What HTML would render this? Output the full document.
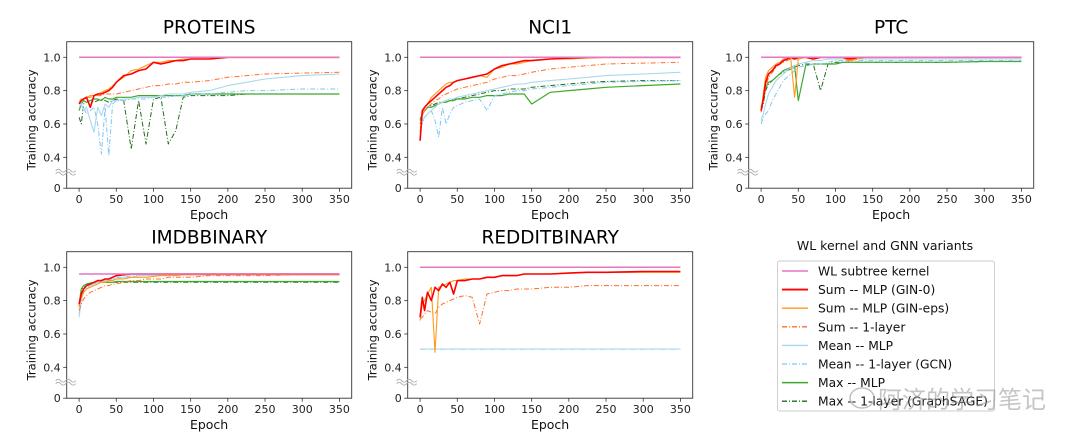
<!DOCTYPE html>
<html><head><meta charset="utf-8"><style>
html,body{margin:0;padding:0;background:#fff;}
svg{display:block;font-family:"DejaVu Sans","Liberation Sans",sans-serif;}
</style></head><body>
<svg id="chart" width="1080" height="442" viewBox="0 0 1080 442" xmlns="http://www.w3.org/2000/svg"></svg>
<script>
const epochs = [0,3,6,10,15,20,25,30,35,40,45,50,60,70,80,90,100,110,120,130,140,150,175,200,225,250,300,350];
const xTicks = [0,50,100,150,200,250,300,350];
const yTicks = [1.0,0.8,0.6,0.4];
const yTickLabels = ["1.0","0.8","0.6","0.4"];
const datasets = ["PROTEINS","NCI1","PTC","IMDBBINARY","REDDITBINARY"];
const wlValues = [1.0,1.0,1.0,0.96,1.0];
const seriesNames = ["Sum -- MLP (GIN-0)","Sum -- MLP (GIN-eps)","Sum -- 1-layer","Mean -- MLP","Mean -- 1-layer (GCN)","Max -- MLP","Max -- 1-layer (GraphSAGE)"];

const proteinsGin0 = [.72,.74,.75,.76,.70,.77,.78,.78,.79,.80,.82,.85,.89,.90,.92,.93,.97,.96,.97,.98,.98,.99,.99,1.0,1.0,1.0,1.0,1.0];
const proteinsGinEps = [.73,.75,.75,.76,.77,.77,.78,.79,.80,.81,.83,.85,.88,.92,.93,.95,.97,.97,.98,.98,.99,.99,.99,1.0,1.0,1.0,1.0,1.0];
const proteinsSum1 = [.73,.75,.75,.76,.76,.77,.77,.77,.78,.78,.78,.78,.79,.80,.81,.82,.83,.83,.84,.84,.85,.85,.86,.88,.89,.90,.905,.91];
const proteinsMeanMlp = [.70,.72,.68,.70,.62,.55,.70,.65,.72,.70,.74,.74,.75,.75,.76,.76,.76,.77,.78,.78,.78,.79,.80,.83,.85,.87,.89,.90];
const proteinsMean1 = [.72,.73,.70,.66,.68,.70,.60,.42,.70,.41,.72,.74,.74,.75,.75,.75,.76,.76,.76,.77,.77,.78,.78,.79,.80,.80,.81,.81];
const proteinsMaxMlp = [.68,.72,.74,.73,.74,.75,.75,.74,.76,.75,.75,.76,.76,.76,.77,.77,.77,.77,.77,.77,.77,.78,.78,.78,.78,.78,.78,.78];
const proteinsMax1 = [.64,.60,.72,.73,.74,.73,.74,.75,.74,.73,.74,.75,.74,.45,.74,.48,.75,.76,.48,.56,.76,.77,.77,.77,.78,.78,.78,.78];

const nci1Gin0 = [.50,.68,.70,.72,.74,.76,.78,.80,.82,.83,.85,.86,.87,.88,.89,.90,.93,.95,.96,.97,.98,.98,.99,.995,1.0,1.0,1.0,1.0];
const nci1GinEps = [.55,.66,.70,.72,.76,.78,.80,.82,.84,.85,.85,.86,.87,.88,.89,.88,.93,.94,.96,.96,.97,.98,.99,.99,.995,1.0,1.0,1.0];
const nci1Sum1 = [.60,.65,.68,.70,.72,.74,.75,.77,.78,.79,.80,.81,.82,.83,.84,.85,.87,.88,.89,.89,.90,.91,.93,.94,.95,.96,.965,.97];
const nci1MeanMlp = [.60,.62,.64,.66,.68,.70,.72,.73,.74,.75,.75,.76,.77,.78,.79,.80,.81,.82,.83,.84,.84,.85,.86,.87,.88,.89,.90,.91];
const nci1Mean1 = [.58,.60,.64,.66,.68,.62,.52,.70,.60,.66,.70,.71,.73,.74,.75,.68,.77,.78,.79,.80,.80,.81,.82,.83,.84,.85,.855,.86];
const nci1MaxMlp = [.62,.66,.68,.70,.70,.71,.72,.73,.73,.74,.74,.75,.75,.76,.76,.77,.77,.77,.78,.78,.78,.72,.79,.80,.81,.82,.83,.84];
const nci1Max1 = [.63,.66,.68,.70,.71,.72,.73,.73,.74,.74,.75,.75,.76,.77,.78,.79,.80,.80,.81,.81,.81,.82,.83,.84,.85,.855,.86,.86];

const ptcGin0 = [.68,.75,.85,.90,.92,.95,.96,.98,.99,1.0,.99,1.0,1.0,.99,1.0,1.0,1.0,1.0,.99,1.0,1.0,1.0,1.0,1.0,1.0,1.0,1.0,1.0];
const ptcGinEps = [.68,.78,.88,.92,.94,.96,.97,.99,1.0,.99,.76,.99,1.0,1.0,1.0,1.0,1.0,1.0,.98,.99,1.0,1.0,1.0,1.0,1.0,1.0,1.0,1.0];
const ptcSum1 = [.67,.74,.82,.88,.91,.94,.96,.97,.98,.99,.99,.99,1.0,1.0,1.0,1.0,1.0,1.0,.97,1.0,1.0,1.0,1.0,1.0,1.0,1.0,1.0,1.0];
const ptcMeanMlp = [.62,.66,.72,.78,.82,.86,.88,.90,.92,.94,.95,.96,.97,.98,.98,.99,.99,.99,.99,.99,.99,.99,.99,.99,.99,.99,.99,.99];
const ptcMean1 = [.60,.64,.66,.68,.74,.78,.82,.86,.88,.90,.92,.94,.95,.96,.96,.97,.98,.98,.98,.98,.98,.98,.98,.98,.98,.98,.98,.98];
const ptcMaxMlp = [.70,.74,.82,.85,.86,.88,.90,.92,.93,.94,.95,.74,.95,.96,.96,.96,.96,.97,.97,.97,.97,.97,.97,.97,.97,.97,.975,.975];
const ptcMax1 = [.68,.72,.80,.84,.86,.88,.90,.91,.92,.93,.94,.95,.96,.96,.80,.96,.97,.97,.97,.97,.97,.97,.97,.97,.97,.97,.975,.975];

const imdbGin0 = [.78,.84,.87,.89,.90,.91,.92,.92,.93,.93,.94,.95,.955,.96,.96,.96,.96,.96,.96,.96,.96,.96,.96,.96,.96,.96,.96,.96];
const imdbGinEps = [.76,.82,.85,.87,.88,.89,.90,.91,.91,.92,.92,.93,.93,.94,.94,.94,.945,.95,.95,.95,.955,.955,.955,.955,.955,.955,.955,.955];
const imdbSum1 = [.74,.78,.81,.83,.85,.86,.87,.88,.89,.89,.90,.90,.91,.92,.92,.93,.93,.93,.94,.94,.94,.94,.95,.95,.95,.95,.955,.955];
const imdbMeanMlp = [.70,.80,.85,.87,.89,.90,.91,.91,.92,.92,.93,.93,.94,.94,.95,.95,.95,.95,.955,.955,.955,.955,.955,.955,.955,.955,.955,.955];
const imdbMean1 = [.72,.82,.86,.88,.89,.90,.91,.92,.92,.93,.93,.94,.94,.95,.95,.95,.955,.955,.955,.955,.955,.955,.955,.955,.955,.955,.955,.955];
const imdbMaxMlp = [.78,.87,.89,.90,.905,.91,.91,.91,.91,.91,.91,.915,.915,.915,.915,.915,.915,.915,.915,.915,.915,.915,.915,.915,.915,.915,.915,.915];
const imdbMax1 = [.77,.86,.88,.89,.90,.90,.91,.91,.91,.91,.91,.91,.91,.91,.91,.91,.91,.91,.91,.91,.91,.91,.91,.91,.91,.91,.91,.91];

const redditGin0 = [.70,.82,.74,.85,.80,.88,.86,.90,.88,.91,.84,.92,.92,.93,.93,.94,.94,.95,.95,.95,.96,.96,.96,.965,.97,.97,.975,.975];
const redditGinEps = [.68,.78,.80,.84,.88,.49,.88,.89,.90,.91,.92,.92,.93,.93,.93,.94,.94,.95,.95,.95,.96,.96,.96,.965,.97,.97,.97,.97];
const redditSum1 = [.69,.70,.72,.74,.73,.72,.76,.78,.79,.80,.81,.82,.83,.82,.66,.84,.85,.86,.86,.87,.87,.87,.88,.88,.89,.89,.89,.89];
const redditMeanMlp = [.51,.51,.51,.51,.51,.51,.51,.51,.51,.51,.51,.51,.51,.51,.51,.51,.51,.51,.51,.51,.51,.51,.51,.51,.51,.51,.51,.51];
const redditMean1 = [.508,.508,.508,.508,.508,.508,.508,.508,.508,.508,.508,.508,.508,.508,.508,.508,.508,.508,.508,.508,.508,.508,.508,.508,.508,.508,.508,.508];
const redditMaxMlp = null;
const redditMax1 = null;

const plotSeries = [
 [proteinsGin0,proteinsGinEps,proteinsSum1,proteinsMeanMlp,proteinsMean1,proteinsMaxMlp,proteinsMax1],
 [nci1Gin0,nci1GinEps,nci1Sum1,nci1MeanMlp,nci1Mean1,nci1MaxMlp,nci1Max1],
 [ptcGin0,ptcGinEps,ptcSum1,ptcMeanMlp,ptcMean1,ptcMaxMlp,ptcMax1],
 [imdbGin0,imdbGinEps,imdbSum1,imdbMeanMlp,imdbMean1,imdbMaxMlp,imdbMax1],
 [redditGin0,redditGinEps,redditSum1,redditMeanMlp,redditMean1,redditMaxMlp,redditMax1]
];

const NS="http://www.w3.org/2000/svg";
const svg=document.getElementById('chart');
function mk(tag,attrs,parent){const e=document.createElementNS(NS,tag);for(const k in attrs)e.setAttribute(k,attrs[k]);(parent||svg).appendChild(e);return e;}
const styles=[
 {c:"#ff0000",w:1.6,d:""},
 {c:"#ff9a1c",w:1.1,d:""},
 {c:"#ff6f2a",w:1.0,d:"5,2,1,2"},
 {c:"#a8d8ee",w:1.1,d:""},
 {c:"#7fc6f5",w:1.0,d:"5,2,1,2"},
 {c:"#3fa82c",w:1.2,d:""},
 {c:"#1f6e1a",w:1.0,d:"5,2,1,2"}
];
const drawOrder=[6,5,4,3,2,1,0];
const W=285,H=146.5;
datasets.forEach((name,p)=>{
  const col=p%3,row=Math.floor(p/3);
  const L=66.7+col*341,T=41.7+row*210;
  const xs=e=>L+12.4+e*260.3/350;
  const ys=v=>T+15.6+(1.0-v)*166.7;
  const g=mk('g',{});
  
  
  const t=mk('text',{x:L+W/2,y:T-8,'text-anchor':'middle','font-size':18.5,fill:'#000'},g);
  t.textContent=name;
  
  
  const ser=plotSeries[p];
  drawOrder.forEach(i=>{
    const vals=ser[i];
    if(!vals)return;
    const pts=vals.map((v,k)=>xs(epochs[k]).toFixed(1)+','+ys(v).toFixed(1)).join(' ');
    const pl=mk('polyline',{points:pts,fill:'none',stroke:styles[i].c,'stroke-width':styles[i].w,'stroke-dasharray':styles[i].d,'stroke-linejoin':'round'},g);
    
    
  });
  const wl=mk('line',{x1:xs(0),x2:xs(350),y1:ys(wlValues[p]),y2:ys(wlValues[p]),stroke:'#e377c2','stroke-width':1.5},g);
  
  
  const box=mk('rect',{x:L,y:T,width:W,height:H,fill:'none',stroke:'#333','stroke-width':0.9},g);
  
  
  xTicks.forEach(v=>{
    const x=xs(v);
    mk('line',{x1:x,x2:x,y1:T+H,y2:T+H+3.5,stroke:'#333','stroke-width':0.8},g);
    const tx=mk('text',{x:x,y:T+H+15,'text-anchor':'middle','font-size':11,fill:'#222'},g);
    tx.textContent=v;
    
    
  });
  yTicks.forEach((v,k)=>{
    const y=ys(v);
    mk('line',{x1:L-3.5,x2:L,y1:y,y2:y,stroke:'#333','stroke-width':0.8},g);
    const ty=mk('text',{x:L-6,y:y+4,'text-anchor':'end','font-size':11,fill:'#222'},g);
    ty.textContent=yTickLabels[k];
    
    
  });
  mk('line',{x1:L-3.5,x2:L,y1:T+H,y2:T+H,stroke:'#333','stroke-width':0.8},g);
  const z=mk('text',{x:L-6,y:T+H+4,'text-anchor':'end','font-size':11,fill:'#222'},g);
  z.textContent='0';
  
  
  const by=T+130.5;
  for(const d of [-1.5,1.5]){
    mk('path',{d:`M${L-11},${by+d} q2.5,-3 5,0 t5,0 t5,0 t5,0`,fill:'none',stroke:'#aaa','stroke-width':0.9},g);
  }
  const xl=mk('text',{x:L+12.4+130,y:T+H+31,'text-anchor':'middle','font-size':12.5,fill:'#111'},g);
  xl.textContent='Epoch';
  
  
  const yl=mk('text',{x:0,y:0,'text-anchor':'middle','font-size':11.5,fill:'#111',transform:`translate(${L-31},${T+H/2+5}) rotate(-90)`},g);
  yl.textContent='Training accuracy';
  
  
});
const lg=mk('g',{});


const lt=mk('text',{x:885,y:250,'text-anchor':'middle','font-size':12.5,fill:'#111'},lg);
lt.textContent='WL kernel and GNN variants';


mk('rect',{x:777.5,y:261,width:217,height:150,rx:2,fill:'#fff',stroke:'#ccc','stroke-width':0.9},lg);
const legNames=["WL subtree kernel"].concat(seriesNames);
const legStyles=[{c:"#e377c2",w:1.2,d:""}].concat(styles);
legNames.forEach((n,i)=>{
  const y=271+i*18.6;
  mk('line',{x1:782,x2:808,y1:y,y2:y,stroke:legStyles[i].c,'stroke-width':legStyles[i].w+0.3,'stroke-dasharray':legStyles[i].d},lg);
  const tx=mk('text',{x:818,y:y+4.5,'font-size':12.3,fill:'#111'},lg);
  tx.textContent=n;
  
  
});
const wm=mk('text',{x:878,y:408,'font-size':24,fill:'rgba(150,150,150,0.55)','font-family':'"Liberation Sans","Noto Sans CJK SC",sans-serif'});
wm.textContent='阿济的学习笔记';


const wc=mk('ellipse',{cx:862,cy:398,rx:12,ry:10,fill:'none',stroke:'rgba(150,150,150,0.6)','stroke-width':1.5});


</script>
</body></html>
